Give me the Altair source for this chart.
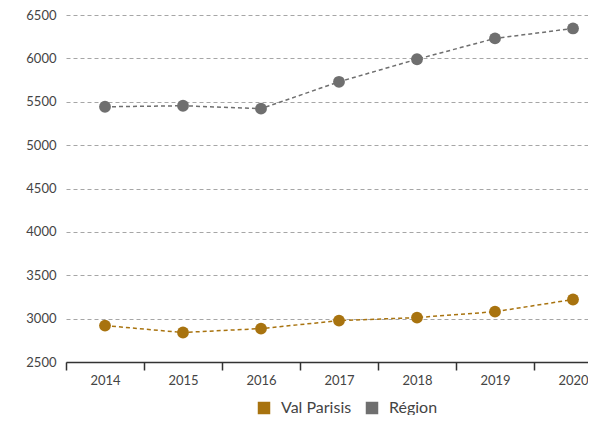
import altair as alt
import pandas as pd

years = [2014, 2015, 2016, 2017, 2018, 2019, 2020]
val_parisis = [2920, 2840, 2885, 2977, 3012, 3080, 3220]
region = [5442, 5454, 5420, 5730, 5990, 6230, 6345]
series_names = ["Val Parisis", "Région"]
series_colors = ["#A8730F", "#6F6F6F"]
y_ticks = [2500, 3000, 3500, 4000, 4500, 5000, 5500, 6000, 6500]
x_ticks = [2013.5, 2014, 2014.5, 2015, 2015.5, 2016, 2016.5, 2017, 2017.5,
           2018, 2018.5, 2019, 2019.5, 2020]

rows = []
for y, v in zip(years, val_parisis):
    rows.append({"year": y, "value": v, "series": "Val Parisis"})
for y, v in zip(years, region):
    rows.append({"year": y, "value": v, "series": "Région"})
df = pd.DataFrame(rows)

FONT = "Lato"

x = alt.X(
    "year:Q",
    title=None,
    scale=alt.Scale(domain=[2013.5, 2013.5 + 522 / 78], nice=False, zero=False),
    axis=alt.Axis(
        values=x_ticks,
        grid=False,
        domain=True,
        domainColor="#333333",
        domainWidth=1.5,
        ticks=True,
        tickSize=8,
        tickColor="#333333",
        tickWidth=1.5,
        tickOpacity={"condition": {"test": "datum.value % 1 === 0", "value": 0}, "value": 1},
        labelExpr="datum.value % 1 === 0 ? toString(datum.value) : ''",
        labelOverlap=False,
        labelFlush=False,
        labelBound=False,
        labelPadding=4,
        labelFont=FONT,
        labelFontSize=13,
        labelColor="#444444",
    ),
)

y = alt.Y(
    "value:Q",
    title=None,
    scale=alt.Scale(domain=[2500, 6500], nice=False, zero=False),
    axis=alt.Axis(
        values=y_ticks,
        format="d",
        domain=False,
        ticks=False,
        grid=True,
        gridColor="#A6A6A6",
        gridDash=[4, 3],
        gridWidth=1,
        labelPadding=10,
        labelFont=FONT,
        labelFontSize=13,
        labelColor="#444444",
    ),
)

legend = alt.Legend(
    title=None,
    orient="none",
    direction="horizontal",
    legendX=190,
    legendY=385,
    symbolType="square",
    symbolSize=156,
    symbolOpacity=1,
    symbolStrokeWidth=0,
    labelFont=FONT,
    labelFontSize=16,
    labelColor="#444444",
    labelOffset=9,
    columnPadding=12,
)

color = alt.Color("series:N",
                  scale=alt.Scale(domain=series_names, range=series_colors),
                  legend=legend)

lines = alt.Chart(df).mark_line(strokeDash=[4, 3], strokeWidth=1.5).encode(
    x=x, y=y, color=color,
)

points = alt.Chart(df).mark_circle(size=140, opacity=1).encode(
    x=x, y=y, color=color,
)

chart = alt.layer(lines, points).properties(
    width=522,
    height=347,
    padding={"left": 58, "top": 7, "right": 0, "bottom": 53},
    autosize=alt.AutoSizeParams(type="none"),
).configure_view(stroke=None)

chart.save("out.html", embed_options={"renderer": "svg", "actions": False})
